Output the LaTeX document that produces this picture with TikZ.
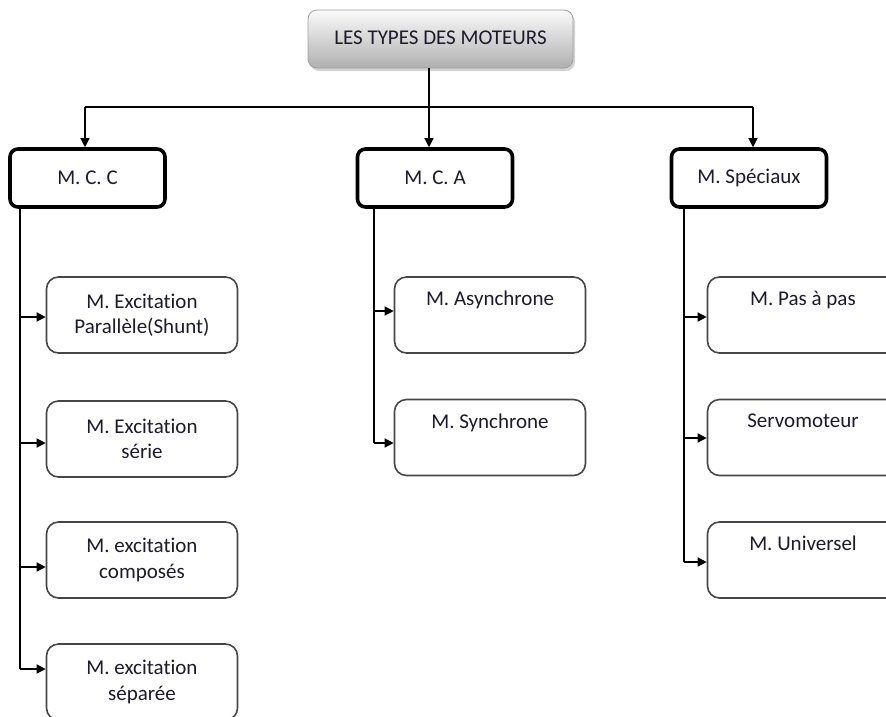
\documentclass[tikz,border=0pt]{standalone}
\usepackage{fontspec}
\setmainfont[Ligatures={NoCommon},RawFeature={-liga;-clig;-dlig}]{Carlito}
\usetikzlibrary{arrows.meta,shadows}
\definecolor{ink}{RGB}{28,26,44}
\definecolor{frame}{RGB}{70,70,70}
% "ti" set as separate letters
\newcommand{\tI}{t\kern0pt i}
\tikzset{
  conn/.style={line width=1.3pt, black},
  arr/.style={conn, -{Triangle[length=9pt,width=9pt]}},
  rootbox/.style={draw=gray!75, line width=0.8pt, rounded corners=9pt,
    top color=gray!4, bottom color=gray!62,
    drop shadow={shadow xshift=2pt, shadow yshift=-3pt, opacity=0.35, fill=gray},
    minimum width=265pt, minimum height=58pt, text=ink, inner sep=0pt},
  groupbox/.style={draw=black, line width=3.6pt, rounded corners=8pt, fill=white,
    minimum width=155pt, minimum height=58pt, text=ink, inner sep=0pt},
  leafbox/.style={draw=frame, line width=1.6pt, rounded corners=12pt, fill=white,
    minimum width=191pt, minimum height=76pt, text=ink, align=center, inner sep=0pt},
}
\begin{document}
\begin{tikzpicture}[x=1pt, y=-1pt, font=\fontsize{21}{25.5}\selectfont]
\useasboundingbox (0,0) rectangle (886,716);
\clip (0,0) rectangle (886,716);

% root
\node[rootbox] (root) at (440.5,39) {\raisebox{3pt}{LES TYPES DES MOTEURS}};

% main families
\node[groupbox] (mcc) at (87.5,178) {M. C. C};
\node[groupbox] (mca) at (435,178) {M. C. A};
\node[groupbox] (spec) at (749,178) {M. Spéciaux};

% direct current motors
\node[leafbox] (par) at (142,315) {M. Excita\tI on\\Parallèle(Shunt)};
\node[leafbox] (ser) at (142,439) {M. Excita\tI on\\série};
\node[leafbox] (comp) at (142,560) {M. excita\tI on\\composés};
\node[leafbox] (sep) at (142,682) {M. excita\tI on\\séparée};

% alternating current motors
\node[leafbox] (async) at (490,315) {M. Asynchrone\\\strut};
\node[leafbox] (sync) at (490,437.5) {M. Synchrone\\\strut};

% special motors
\node[leafbox] (pas) at (803,315) {M. Pas à pas\\\strut};
\node[leafbox] (servo) at (803,437.5) {Servomoteur\\\strut};
\node[leafbox] (univ) at (803,560) {M. Universel\\\strut};

% top-level distribution bus
\coordinate (busL) at (85,107);
\coordinate (trunk) at (429,107);
\coordinate (busR) at (753,107);
\draw[conn] (trunk |- root.south) -- (trunk);
\draw[conn] (busL) -- (busR);
\draw[arr] (busL) -- (busL |- mcc.north);
\draw[arr] (trunk) -- (trunk |- mca.north);
\draw[arr] (busR) -- (busR |- spec.north);

% M. C. C branch
\coordinate (l1) at (20,317);
\coordinate (l2) at (20,443);
\coordinate (l3) at (20,567);
\coordinate (l4) at (20,669);
\draw[conn] (l4 |- mcc.south) -- (l4);
\draw[arr] (l1) -- (l1 -| par.west);
\draw[arr] (l2) -- (l2 -| ser.west);
\draw[arr] (l3) -- (l3 -| comp.west);
\draw[arr] (l4) -- (l4 -| sep.west);

% M. C. A branch
\coordinate (m1) at (374,311);
\coordinate (m2) at (374,443);
\draw[conn] (m2 |- mca.south) -- (m2);
\draw[arr] (m1) -- (m1 -| async.west);
\draw[arr] (m2) -- (m2 -| sync.west);

% special motors branch
\coordinate (r1) at (684,317);
\coordinate (r2) at (684,438);
\coordinate (r3) at (684,562);
\draw[conn] (r3 |- spec.south) -- (r3);
\draw[arr] (r1) -- (r1 -| pas.west);
\draw[arr] (r2) -- (r2 -| servo.west);
\draw[arr] (r3) -- (r3 -| univ.west);
\end{tikzpicture}
\end{document}
